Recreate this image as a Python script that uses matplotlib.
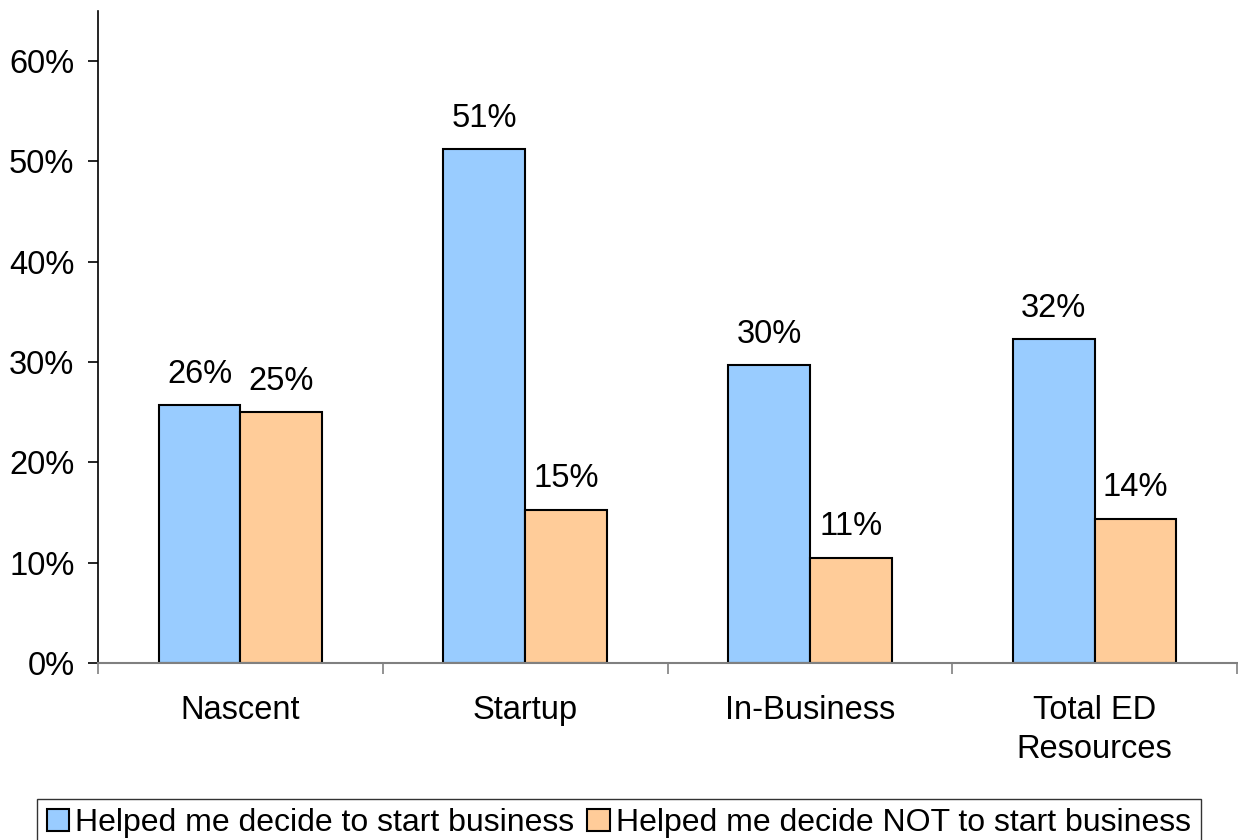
import numpy as np
import matplotlib.pyplot as plt

plt.rcParams['font.family'] = ['Liberation Sans', 'DejaVu Sans']

categories = ['Nascent', 'Startup', 'In-Business', 'Total ED\nResources']
helped_start = [25.7, 51.2, 29.7, 32.3]
helped_not_start = [25.0, 15.3, 10.5, 14.4]
labels_start = ['26%', '51%', '30%', '32%']
labels_not = ['25%', '15%', '11%', '14%']
series_names = ['Helped me decide to start business', 'Helped me decide NOT to start business']

fs = 23.5
fig = plt.figure(figsize=(12.38, 8.4), dpi=100)
ax = fig.add_axes([98/1238, 1 - 663/840, (1237 - 98)/1238, (663 - 11)/840])

x = np.arange(len(categories))
w = 0.287
b1 = ax.bar(x - w/2, helped_start, w, color='#99CCFF', edgecolor='black', linewidth=1.5,
            label=series_names[0])
b2 = ax.bar(x + w/2, helped_not_start, w, color='#FFCC99', edgecolor='black', linewidth=1.5,
            label=series_names[1])

for bars, labs in [(b1, labels_start), (b2, labels_not)]:
    for bar, lab in zip(bars, labs):
        ax.annotate(lab, (bar.get_x() + bar.get_width()/2, bar.get_height()),
                    xytext=(0, 11), textcoords='offset points', ha='center', va='bottom',
                    fontsize=fs)

ax.set_xlim(-0.5, len(categories) - 0.5)
ax.set_ylim(0, 65)
ax.set_yticks(np.arange(0, 61, 10))
ax.set_yticklabels([f'{v}%' for v in range(0, 61, 10)], fontsize=fs)
ax.set_xticks(x)
ax.set_xticklabels(categories, fontsize=fs, linespacing=1.35)
ax.tick_params(axis='x', length=0, pad=23)
ax.set_xticks(np.arange(-0.5, len(categories), 1), minor=True)
ax.tick_params(axis='x', which='minor', length=8, color='#808080', width=1.2)
ax.tick_params(axis='y', length=7, width=1.2, pad=10)

for s in ['top', 'right']:
    ax.spines[s].set_visible(False)
ax.spines['left'].set_linewidth(1.2)
ax.spines['bottom'].set_color('#808080')
ax.spines['bottom'].set_linewidth(1.5)

leg = fig.legend(loc='lower left', bbox_to_anchor=(37/1238, -8/840), ncol=2, fontsize=23,
                 frameon=True, fancybox=False, edgecolor='black', handlelength=0.7,
                 handleheight=0.7, handletextpad=0.2, columnspacing=0.4, borderpad=0.3,
                 borderaxespad=0)
leg.get_frame().set_linewidth(1.0)

fig.savefig('out.png', dpi=100)
